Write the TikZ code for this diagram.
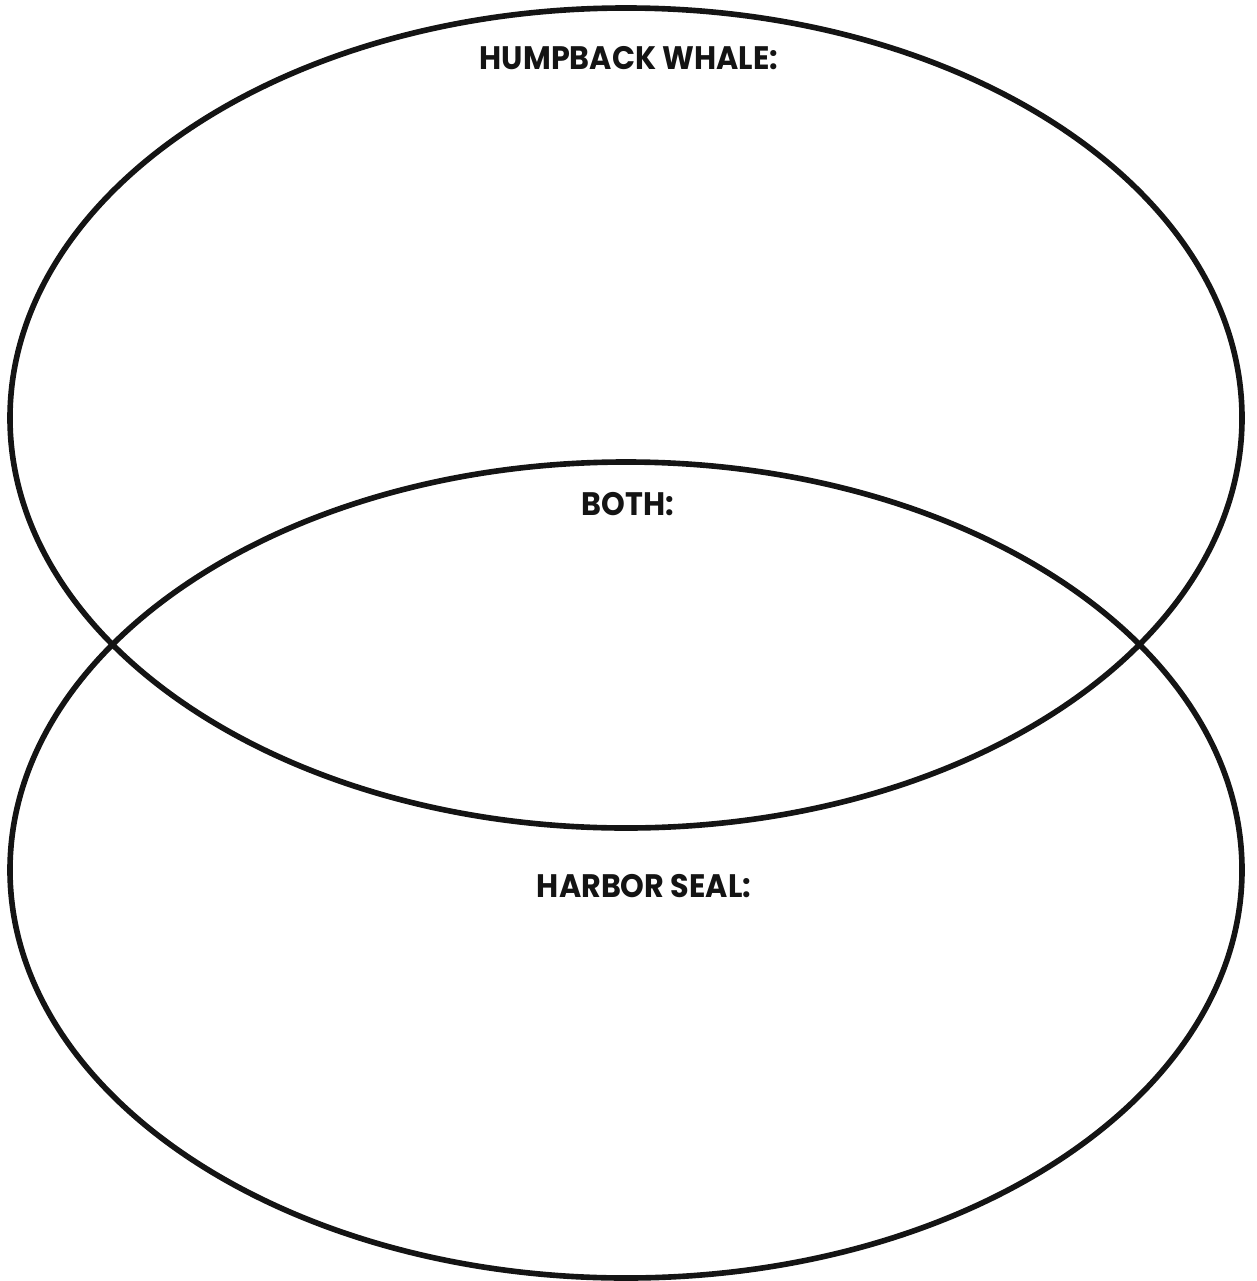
\documentclass[tikz,border=0pt]{standalone}
\usepackage{fontspec}
\usepackage{xcolor}
\newfontfamily\vennfont[FakeStretch=0.93]{Poppins}
\definecolor{inkBlack}{RGB}{20,20,20}
\tikzset{
  vennline/.style={draw=inkBlack,line width=3.2pt},
  vennlabel/.style={font=\vennfont\bfseries\fontsize{18.5}{21}\selectfont,text=inkBlack,anchor=center}
}

\begin{document}
\begin{tikzpicture}[x=0.02cm,y=-0.02cm]
\useasboundingbox (0,0) rectangle (1257,1281);
\draw[vennline] (626,418) ellipse [x radius=616,y radius=410];
\draw[vennline] (626,870) ellipse [x radius=616,y radius=408];
\node[vennlabel] (whale) at (629,58) {HUMPBACK WHALE:};
\node[vennlabel] (both) at (628,504) {BOTH:};
\node[vennlabel] (seal) at (644,886) {HARBOR SEAL:};
\end{tikzpicture}
\end{document}
